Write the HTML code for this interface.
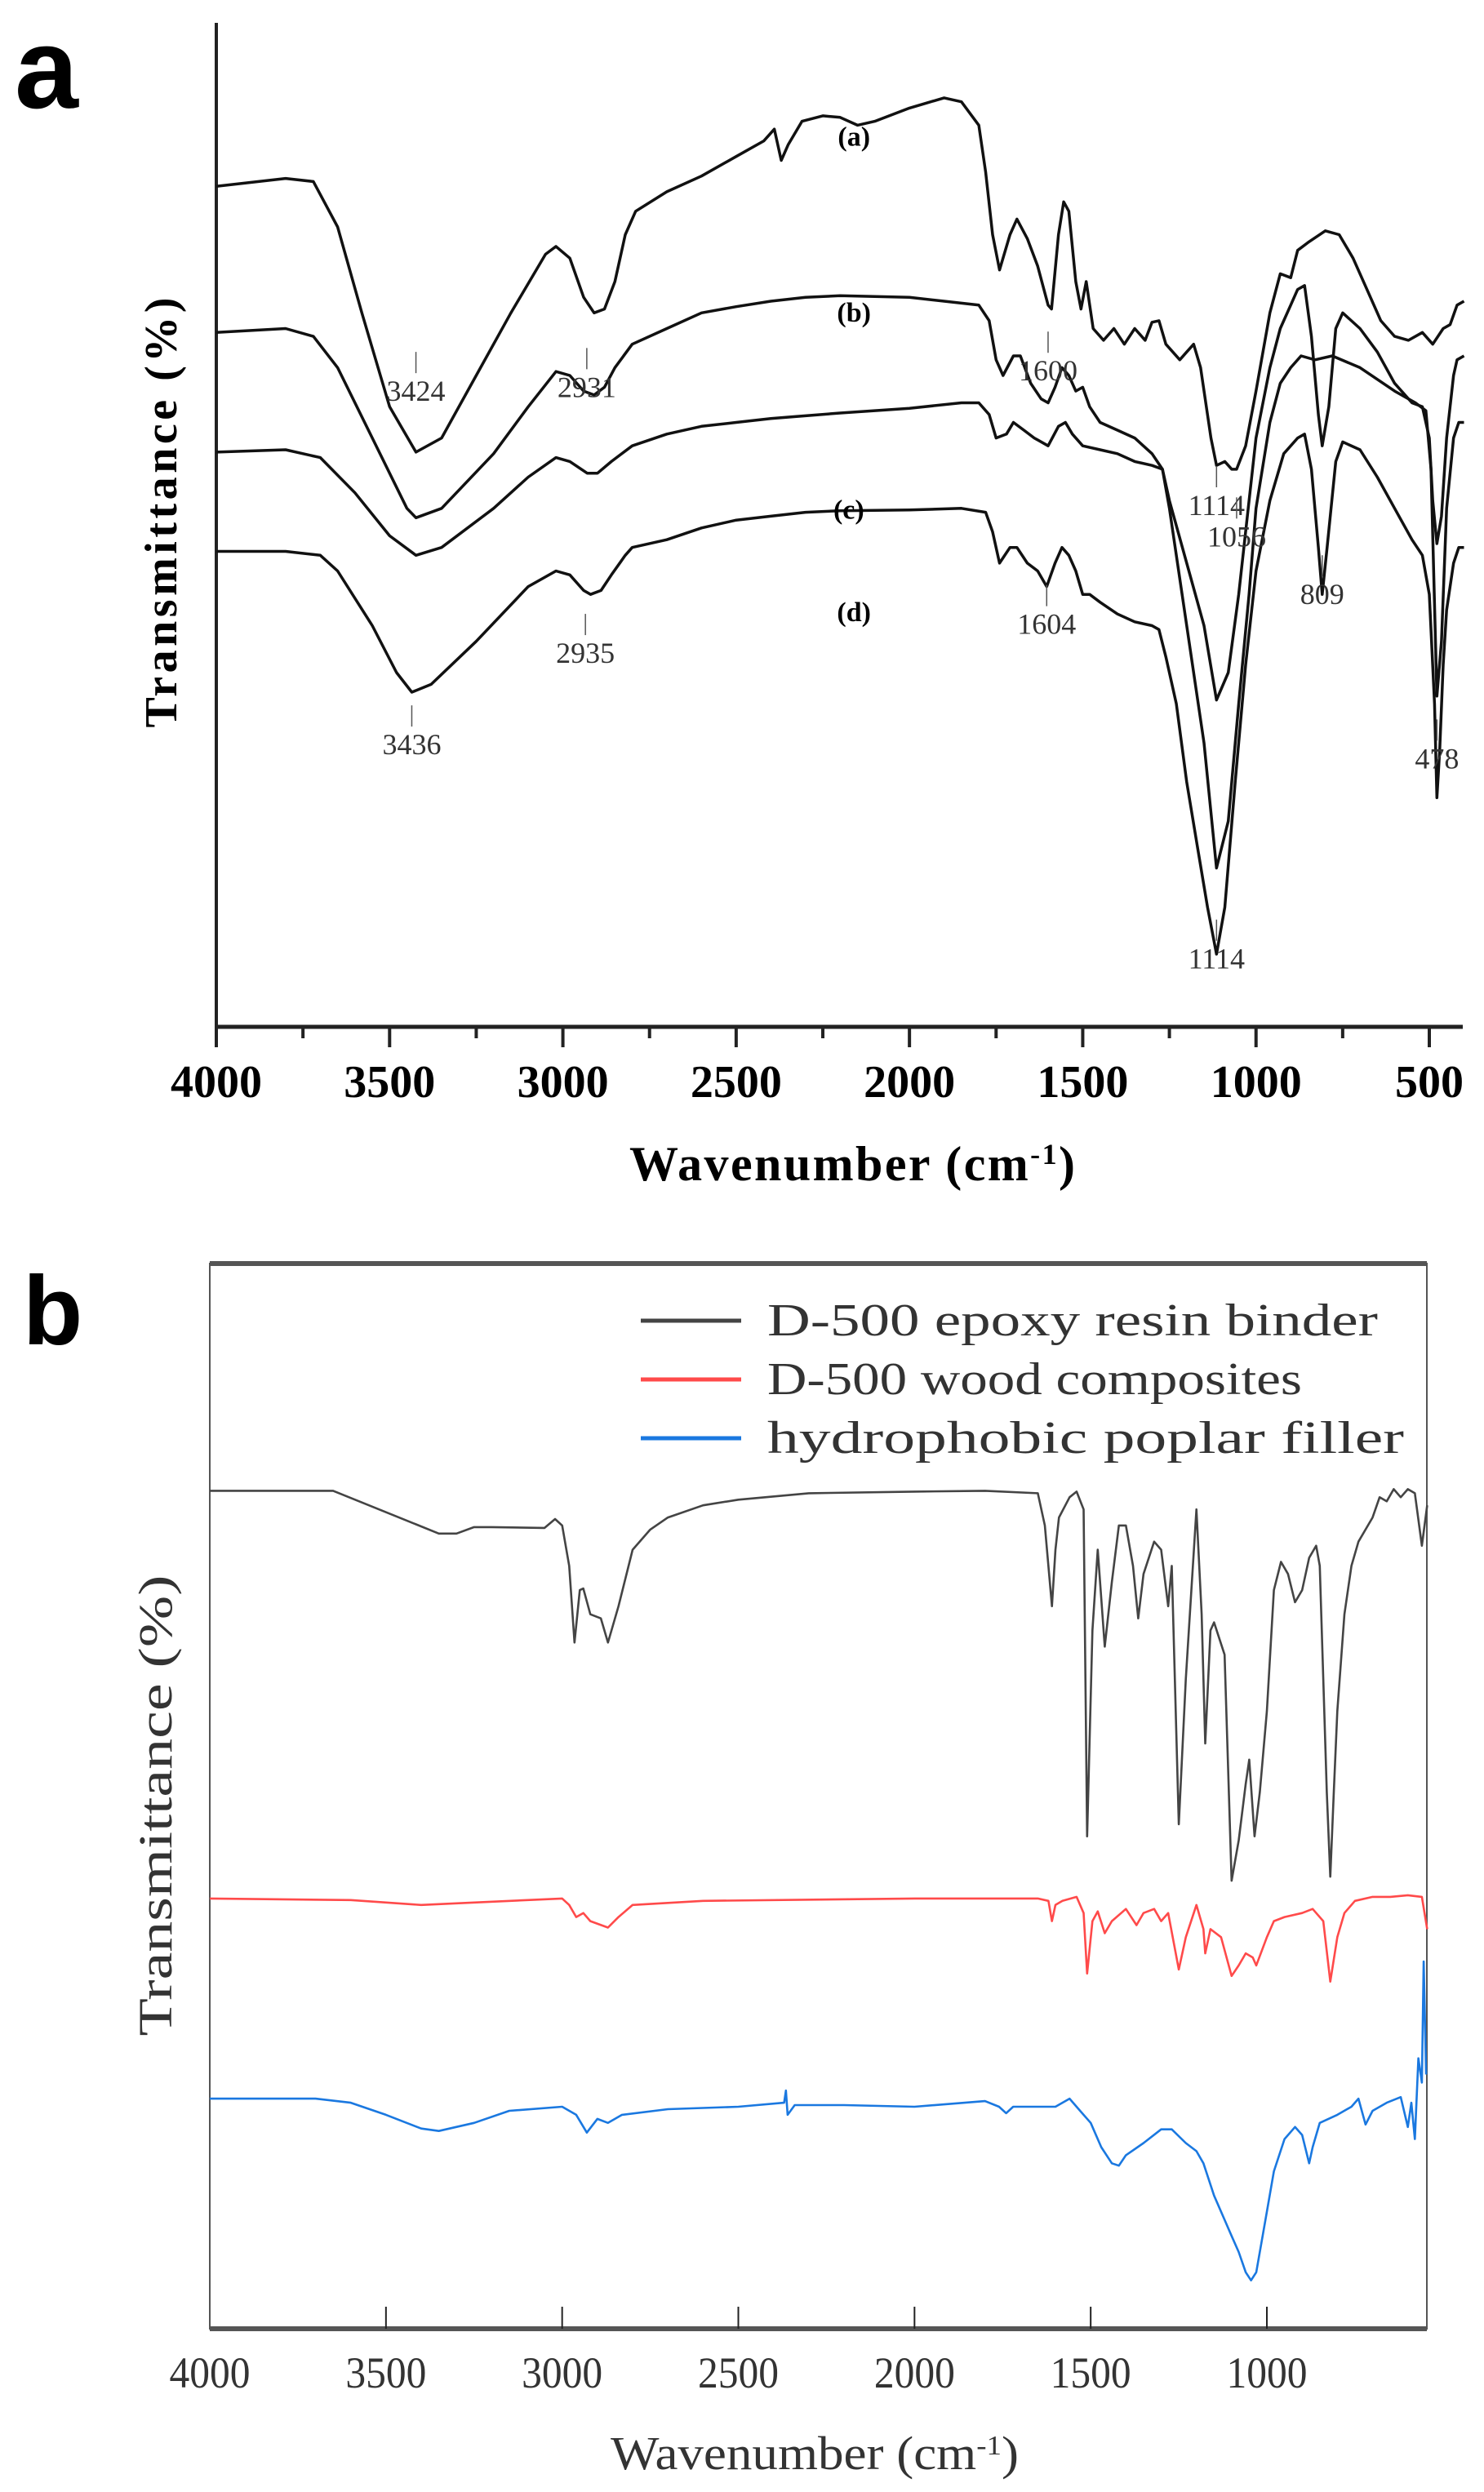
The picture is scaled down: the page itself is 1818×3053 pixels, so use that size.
<!DOCTYPE html>
<html><head><meta charset="utf-8"><style>
html,body{margin:0;padding:0;background:#fff}
svg{display:block}
</style></head><body>
<svg id="fig" width="1818" height="3053" viewBox="0 0 1818 3053" xmlns="http://www.w3.org/2000/svg">
<g id="pa"></g>
<g id="pb"></g>
</svg>
<script>
// ---------- Panel a data ----------
const aWn = [4000,3800,3720,3650,3580,3500,3424,3350,3250,3150,3050,3020,2980,2940,2910,2880,2850,2820,2790,2700,2600,2500,2420,2390,2370,2350,2310,2250,2200,2150,2100,2000,1900,1850,1800,1780,1760,1740,1710,1690,1660,1630,1600,1590,1570,1555,1540,1520,1505,1490,1470,1440,1410,1380,1350,1320,1300,1280,1260,1220,1200,1180,1160,1130,1114,1090,1070,1056,1030,1000,960,930,900,880,850,800,760,720,680,640,600,560,520,490,460,440,420,400];
const aVal = [1075,1085,1081,1023,913,793,735,753,833,913,988,998,983,933,913,918,953,1013,1043,1068,1088,1113,1133,1148,1108,1128,1158,1165,1163,1153,1158,1175,1188,1183,1153,1093,1013,968,1013,1033,1008,973,923,918,1013,1055,1043,953,918,953,893,878,893,873,893,878,901,903,873,853,863,873,843,753,718,723,713,713,743,813,913,963,958,993,1003,1018,1013,983,943,903,883,878,888,873,893,898,923,928];
const bWn = [4000,3800,3720,3650,3550,3450,3424,3350,3200,3100,3020,2980,2940,2910,2880,2850,2800,2700,2600,2500,2400,2300,2200,2000,1900,1800,1770,1750,1730,1700,1680,1650,1620,1600,1580,1560,1540,1520,1500,1480,1450,1400,1350,1300,1270,1250,1200,1150,1114,1080,1050,1020,1000,960,930,900,880,860,840,820,809,790,770,750,700,650,600,550,520,500,490,478,465,450,430,420,400];
const bVal = [888,893,883,843,753,663,651,663,733,793,838,833,813,808,818,843,873,893,913,921,928,933,935,933,928,923,903,853,833,858,858,823,803,798,818,843,833,813,818,793,773,763,753,733,713,673,593,513,418,453,553,673,753,843,893,923,943,948,883,783,743,793,893,913,893,863,823,798,793,753,673,618,653,753,833,853,858];
const cWn = [4000,3800,3700,3600,3500,3424,3350,3200,3100,3020,2980,2930,2900,2860,2800,2700,2600,2500,2400,2200,2000,1850,1800,1770,1750,1720,1700,1670,1640,1600,1570,1550,1530,1500,1450,1400,1350,1300,1270,1250,1200,1150,1114,1080,1050,1020,1000,960,930,900,870,830,780,700,600,540,510,495,478,465,450,430,415,400];
const cVal = [735,738,728,683,628,603,613,663,703,728,723,708,708,723,743,758,768,773,778,785,791,798,798,783,753,758,773,763,753,743,768,773,758,743,738,733,723,718,713,663,513,363,203,263,413,553,663,773,823,843,858,853,858,843,813,798,788,713,423,493,663,753,773,773];
const dWn = [4000,3800,3700,3650,3550,3480,3436,3380,3250,3100,3020,2980,2940,2920,2890,2860,2820,2800,2700,2600,2500,2400,2300,2200,2000,1850,1780,1760,1740,1710,1690,1660,1630,1604,1580,1560,1540,1520,1500,1480,1450,1400,1350,1300,1280,1260,1230,1200,1170,1140,1114,1090,1060,1030,1000,960,920,880,860,840,820,809,795,770,750,700,650,600,550,520,500,485,478,470,460,450,430,415,400];
const dVal = [608,608,603,583,513,453,428,438,493,563,583,578,558,553,558,578,603,613,623,638,648,653,658,660,661,663,658,633,593,613,613,593,583,563,593,613,603,583,553,553,543,528,518,513,508,473,413,313,233,153,93,153,313,463,583,673,733,753,758,713,613,553,613,723,748,738,703,663,623,603,553,413,293,353,463,533,593,613,613];
const aTicks = [4000,3500,3000,2500,2000,1500,1000,500];
const aMinor = [3750,3250,2750,2250,1750,1250,750];
const aCurveLabels = ["(a)","(b)","(c)","(d)"];
const aCurveLabelWn = [2160,2160,2175,2160];
const aCurveLabelVal = [1127,902,650,519];
const aPeakText = ["3424","2931","1600","1114","1056","809","2935","1604","3436","1114","478"];
const aPeakWn = [3424,2931,1600,1114,1056,809,2935,1604,3436,1114,478];
const aPeakVal = [813,818,839,667,627,553,478,515,361,87,343];

// ---------- Panel b data ----------
const kWn = [4000,3650,3350,3300,3250,3200,3050,3020,3000,2980,2965,2950,2940,2920,2890,2870,2840,2800,2750,2700,2600,2500,2300,2000,1800,1650,1630,1610,1600,1590,1560,1540,1520,1510,1495,1480,1460,1440,1420,1400,1380,1365,1350,1320,1300,1280,1270,1250,1230,1200,1185,1175,1160,1150,1120,1100,1080,1060,1050,1035,1020,1000,980,960,940,920,900,880,860,850,830,820,810,800,780,760,740,700,680,660,640,620,600,580,560,545];
const kVal = [1038,1038,985,985,993,993,992,1003,995,945,850,915,917,885,880,850,895,965,990,1005,1020,1027,1035,1037,1038,1035,995,895,965,1005,1030,1037,1015,610,865,965,845,925,995,995,945,880,935,975,965,895,945,625,805,1015,885,725,865,875,835,555,605,675,705,610,665,765,915,950,935,900,915,955,970,945,665,560,665,765,885,945,975,1005,1030,1025,1040,1030,1040,1035,970,1020];
const rWn = [4000,3600,3400,3300,3000,2980,2960,2940,2920,2870,2840,2800,2600,2000,1650,1620,1610,1600,1580,1540,1520,1510,1495,1480,1460,1440,1400,1370,1350,1320,1300,1280,1250,1230,1200,1180,1175,1160,1130,1100,1080,1060,1040,1030,1000,980,950,900,870,840,820,800,780,750,700,650,600,560,545];
const rVal = [533,531,525,527,533,525,510,515,505,497,510,525,530,533,533,530,505,525,530,535,515,440,505,517,490,505,520,500,515,520,505,515,445,485,525,495,465,495,485,437,450,465,460,450,485,505,510,515,520,505,430,485,515,530,535,535,537,535,495];
const uWn = [4000,3700,3600,3500,3400,3350,3250,3150,3000,2960,2930,2900,2870,2830,2700,2500,2370,2365,2360,2340,2200,2000,1800,1760,1740,1720,1600,1560,1530,1500,1470,1440,1420,1400,1350,1300,1270,1230,1200,1180,1150,1120,1100,1080,1060,1045,1030,1000,980,950,920,900,880,870,850,800,760,740,720,700,660,620,600,590,580,570,560,555,548];
const uVal = [285,285,280,265,248,245,255,270,275,265,243,260,255,265,272,275,280,295,265,277,277,275,282,275,267,275,275,285,270,255,225,205,202,215,230,247,247,230,220,205,165,135,115,95,70,60,70,145,195,235,250,240,205,225,255,265,275,285,253,270,280,287,250,280,235,335,305,455,315];
const bTicks = [4000,3500,3000,2500,2000,1500,1000];
const legendNames = ["D-500 epoxy resin binder","D-500 wood composites","hydrophobic poplar filler"];

const NS = "http://www.w3.org/2000/svg";
function mk(tag, attrs, parent, text){
  const e = document.createElementNS(NS, tag);
  for (const k in attrs) e.setAttribute(k, attrs[k]);
  if (text !== undefined) e.textContent = text;
  parent.appendChild(e);
  return e;
}
// Panel a axes
const axL = 265, axB = 1258, axT = 28, axR = 1792;
const ax = wn => axL + (4000 - wn) * (1751 - 265) / 3500;
const ay = v => axB - v * 0.958;
// Panel b axes
const bxL = 257, bxR = 1748, byT = 1548, byB = 2853;
const bx = wn => bxL + (4000 - wn) * (1552 - 257) / 3000;
const by = v => byB - v * 0.989;

const pa = document.getElementById('pa');
const pb = document.getElementById('pb');

let t = mk('text',{x:18,y:132,'font-family':'Liberation Sans, sans-serif','font-weight':'bold','font-size':140},pa,'a');



let l = mk('line',{x1:axL,y1:axT,x2:axL,y2:axB+1,stroke:'#222','stroke-width':4},pa);


l = mk('line',{x1:axL-2,y1:axB,x2:axR,y2:axB,stroke:'#222','stroke-width':5},pa);


aTicks.forEach(w=>{
  const tk = mk('line',{x1:ax(w),y1:axB,x2:ax(w),y2:axB+25,stroke:'#222','stroke-width':4},pa);
  
  
  const tl = mk('text',{x:ax(w),y:axB+86,'text-anchor':'middle','font-family':'Liberation Serif, serif','font-weight':'bold','font-size':56},pa,String(w));
  
  
});
aMinor.forEach(w=>{
  const tk = mk('line',{x1:ax(w),y1:axB,x2:ax(w),y2:axB+14,stroke:'#222','stroke-width':4},pa);
  
  
});
t = mk('text',{x:1044,y:1446,'text-anchor':'middle','font-family':'Liberation Serif, serif','font-weight':'bold','font-size':60,textLength:546},pa);


t.appendChild(document.createTextNode('Wavenumber (cm'));
mk('tspan',{'baseline-shift':'super','font-size':36},t,'-1');
t.appendChild(document.createTextNode(')'));
t = mk('text',{x:0,y:0,'text-anchor':'middle','font-family':'Liberation Serif, serif','font-weight':'bold','font-size':56,textLength:527,transform:'translate(216,628) rotate(-90)'},pa,'Transmittance (%)');



function pathD(wns, vals, fx, fy){
  return wns.map((w,i)=>(i?'L':'M')+fx(w).toFixed(1)+','+fy(vals[i]).toFixed(1)).join(' ');
}
const aSeries = [[aWn,aVal,'curve-a'],[bWn,bVal,'curve-b'],[cWn,cVal,'curve-c'],[dWn,dVal,'curve-d']];
aSeries.forEach(s=>{
  const p = mk('path',{d:pathD(s[0],s[1],ax,ay),fill:'none',stroke:'#111','stroke-width':3.5,'stroke-linejoin':'round'},pa);
  
  
});
aCurveLabels.forEach((s,i)=>{
  const e = mk('text',{x:ax(aCurveLabelWn[i]),y:ay(aCurveLabelVal[i]),'text-anchor':'middle','font-family':'Liberation Serif, serif','font-weight':'bold','font-size':34},pa,s);
  
  
});
aPeakText.forEach((s,i)=>{
  const x = ax(aPeakWn[i]), y = ay(aPeakVal[i]);
  const e = mk('text',{x:x,y:y+12,'text-anchor':'middle','font-family':'Liberation Serif, serif','font-size':36,fill:'#333'},pa,s);
  
  
  const tk = mk('line',{x1:x,y1:y-22,x2:x,y2:y-48,stroke:'#555','stroke-width':1.5},pa);
  
  
});

// Panel b
t = mk('text',{x:28,y:1647,'font-family':'Liberation Sans, sans-serif','font-weight':'bold','font-size':120},pb,'b');


let r = mk('rect',{x:bxL,y:byT,width:bxR-bxL,height:byB-byT,fill:'none',stroke:'#555','stroke-width':2},pb);


l = mk('line',{x1:bxL,y1:byT,x2:bxR,y2:byT,stroke:'#555','stroke-width':6},pb);


l = mk('line',{x1:bxL,y1:byB,x2:bxR,y2:byB,stroke:'#555','stroke-width':6},pb);


bTicks.forEach(w=>{
  if (w!==4000){
    const tk = mk('line',{x1:bx(w),y1:byB,x2:bx(w),y2:byB-27,stroke:'#222','stroke-width':2},pb);
    
    
  }
  const tl = mk('text',{x:bx(w),y:byB+72,'text-anchor':'middle','font-family':'Liberation Serif, serif','font-size':54,textLength:99,lengthAdjust:'spacingAndGlyphs',fill:'#333'},pb,String(w));
  
  
});
t = mk('text',{x:998,y:3025,'text-anchor':'middle','font-family':'Liberation Serif, serif','font-size':58,textLength:500,lengthAdjust:'spacingAndGlyphs',fill:'#333'},pb);


t.appendChild(document.createTextNode('Wavenumber  (cm'));
mk('tspan',{'baseline-shift':'super','font-size':34},t,'-1');
t.appendChild(document.createTextNode(')'));
t = mk('text',{x:0,y:0,'text-anchor':'middle','font-family':'Liberation Serif, serif','font-size':58,textLength:565,lengthAdjust:'spacingAndGlyphs',fill:'#333',transform:'translate(210,2212) rotate(-90)'},pb,'Transmittance  (%)');



const bSeries = [[kWn,kVal,'#444','epoxy-binder-line'],[rWn,rVal,'#ff4a4a','wood-composite-line'],[uWn,uVal,'#1a78e0','poplar-filler-line']];
bSeries.forEach(s=>{
  const p = mk('path',{d:pathD(s[0],s[1],bx,by),fill:'none',stroke:s[2],'stroke-width':2.6,'stroke-linejoin':'round'},pb);
  
  
});
const legW = [748,655,780];
legendNames.forEach((n,i)=>{
  const yy = 1618 + i*72;
  const g = mk('g',{},pb);
  
  
  mk('line',{x1:785,y1:yy,x2:908,y2:yy,stroke:bSeries[i][2],'stroke-width':5},g);
  mk('text',{x:940,y:yy+18,'font-family':'Liberation Serif, serif','font-size':56,textLength:legW[i],lengthAdjust:'spacingAndGlyphs',fill:'#333'},g,n);
});
</script>
</body></html>
